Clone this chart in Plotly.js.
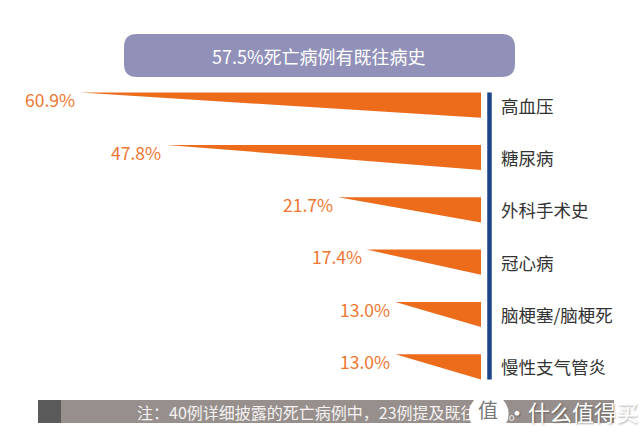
<!DOCTYPE html>
<html>
<head>
<meta charset="utf-8">
<script src="https://cdn.plot.ly/plotly-3.0.1.min.js"></script>
<style>
  html, body { margin: 0; padding: 0; background: #fff; }
  #chart { width: 641px; height: 442px; }
</style>
</head>
<body>
<div id="chart"></div>
<script>
// datos
const enfermedades = ["高血压", "糖尿病", "外科手术史", "冠心病", "脑梗塞/脑梗死", "慢性支气管炎"];
const porcentajes = [60.9, 47.8, 21.7, 17.4, 13.0, 13.0];
const etiquetas = ["60.9%", "47.8%", "21.7%", "17.4%", "13.0%", "13.0%"];
const titulo = "57.5%死亡病例有既往病史";
const nota = "注：40例详细披露的死亡病例中，23例提及既往病史。";

const naranja = "#ec6c1b";
const fuente = "Noto Sans CJK SC, Noto Sans, sans-serif";

// area del grafico en pixeles
const L = 0, T = 79, W = 481, H = 314;
const px = x => (x - L) / W;
const py = y => (T + H - y) / H;
const media = 0.24;

const trazas = porcentajes.map((v, i) => ({
  x: [v, 0, 0, v],
  y: [i - media, i - media, i + media, i - media],
  type: "scatter",
  mode: "lines",
  fill: "toself",
  fillcolor: naranja,
  line: { width: 0, color: naranja },
  hoverinfo: "skip",
  showlegend: false
}));

const anotaciones = [];
porcentajes.forEach((v, i) => {
  anotaciones.push({
    x: v, y: i - 0.1, xref: "x", yref: "y",
    text: etiquetas[i], showarrow: false,
    xanchor: "right", yanchor: "middle", xshift: -3,
    font: { family: fuente, size: 17.5, color: "#ee7630" }
  });
  anotaciones.push({
    x: px(499), y: i, xref: "paper", yref: "y",
    text: enfermedades[i], showarrow: false,
    xanchor: "left", yanchor: "middle",
    font: { family: fuente, size: 17.5, color: "#333333" }
  });
});

anotaciones.push({
  x: px(319), y: py(55.5), xref: "paper", yref: "paper",
  text: titulo, showarrow: false, xanchor: "center", yanchor: "middle",
  font: { family: fuente, size: 18, color: "#ffffff" }
});
anotaciones.push({
  x: px(135), y: py(411.5), xref: "paper", yref: "paper",
  text: nota, showarrow: false, xanchor: "left", yanchor: "middle",
  font: { family: fuente, size: 16, color: "#f4f2f2" }
});
// marca de agua
anotaciones.push({
  x: px(488), y: py(408.5), xref: "paper", yref: "paper",
  text: "●", showarrow: false, xanchor: "center", yanchor: "middle",
  font: { family: "DejaVu Sans", size: 52, color: "#ffffff" }
});
anotaciones.push({
  x: px(488), y: py(409), xref: "paper", yref: "paper",
  text: "值", showarrow: false, xanchor: "center", yanchor: "middle",
  font: { family: fuente, size: 20, color: "#777777" }
});
anotaciones.push({
  x: px(504), y: py(411), xref: "paper", yref: "paper",
  text: "·什么值得买", showarrow: false, xanchor: "left", yanchor: "middle",
  font: { family: fuente, size: 22, color: "#ffffff", shadow: "1px 1px 2px rgba(0,0,0,0.35)" }
});

// caja redondeada del titulo
const x0 = 124, x1 = 515, y0 = 34, y1 = 77, r = 13;
const caja = `M${px(x0 + r)},${py(y0)} L${px(x1 - r)},${py(y0)} Q${px(x1)},${py(y0)} ${px(x1)},${py(y0 + r)} ` +
  `L${px(x1)},${py(y1 - r)} Q${px(x1)},${py(y1)} ${px(x1 - r)},${py(y1)} L${px(x0 + r)},${py(y1)} ` +
  `Q${px(x0)},${py(y1)} ${px(x0)},${py(y1 - r)} L${px(x0)},${py(y0 + r)} Q${px(x0)},${py(y0)} ${px(x0 + r)},${py(y0)} Z`;

const formas = [
  { type: "path", xref: "paper", yref: "paper", path: caja, fillcolor: "#9090b9", line: { width: 0 }, layer: "below" },
  { type: "line", xref: "paper", yref: "y", x0: px(489.5), x1: px(489.5), y0: -media, y1: 5 + media,
    line: { color: "#1b4586", width: 4.5 } },
  { type: "rect", xref: "paper", yref: "paper", x0: px(38), x1: px(614), y0: py(400), y1: py(423),
    fillcolor: "#978f8c", line: { width: 0 }, layer: "below" },
  { type: "rect", xref: "paper", yref: "paper", x0: px(38), x1: px(61), y0: py(400), y1: py(423),
    fillcolor: "#5b5a5a", line: { width: 0 }, layer: "below" }
];

const layout = {
  width: 641, height: 442,
  margin: { l: L, r: 641 - L - W, t: T, b: 442 - T - H },
  paper_bgcolor: "#ffffff", plot_bgcolor: "#ffffff",
  xaxis: { range: [73.1, 0], visible: false, fixedrange: true },
  yaxis: { range: [5.5, -0.5], visible: false, fixedrange: true },
  shapes: formas,
  annotations: anotaciones,
  showlegend: false
};

Plotly.newPlot("chart", trazas, layout, { displayModeBar: false, staticPlot: true });
</script>
</body>
</html>
